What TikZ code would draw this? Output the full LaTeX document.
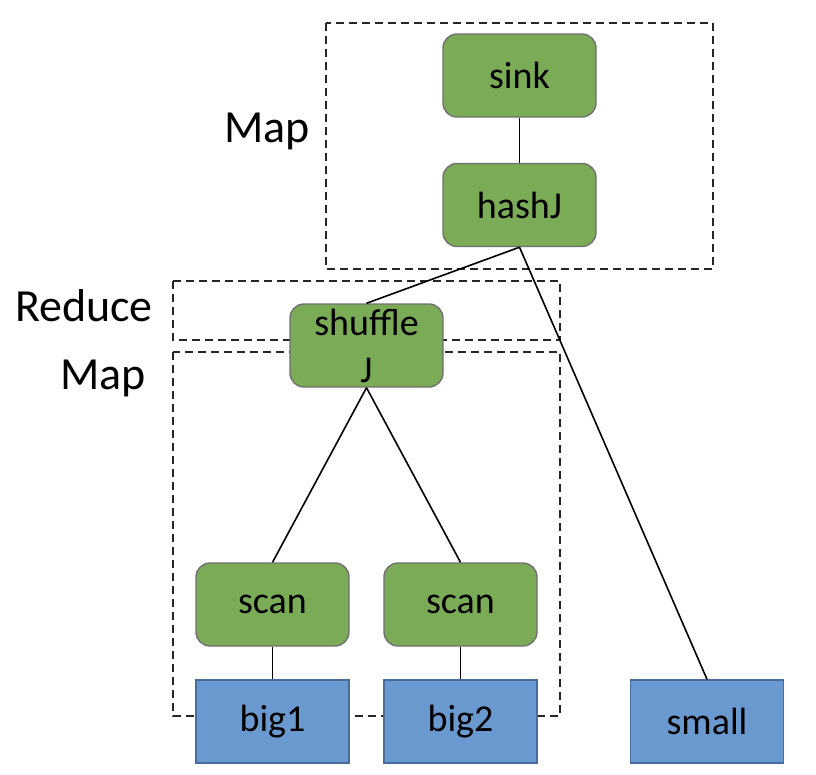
\documentclass[tikz,border=0pt]{standalone}
\usepackage{fontspec}
\setmainfont{Carlito}
\definecolor{gfill}{RGB}{123,171,86}
\definecolor{gdraw}{RGB}{112,112,112}
\definecolor{bfill}{RGB}{106,153,208}
\definecolor{bdraw}{RGB}{72,108,156}
\begin{document}
\begin{tikzpicture}[x=1pt,y=-1pt,
  greenbox/.style={draw=gdraw,fill=gfill,line width=1.4pt,rounded corners=14pt,minimum width=153pt,minimum height=83pt,inner sep=0pt,font=\fontsize{38}{47}\selectfont,align=center},
  bluebox/.style={draw=bdraw,fill=bfill,line width=1.4pt,minimum width=153pt,minimum height=83pt,inner sep=0pt,font=\fontsize{38}{47}\selectfont},
  phase/.style={draw=black!85,line width=1.5pt,dash pattern=on 8pt off 5pt},
  lbl/.style={font=\fontsize{46}{52}\selectfont,inner sep=0pt},
  conn/.style={draw=black,line width=1.6pt}]
\useasboundingbox (0,0) rectangle (816,774);
% phase boxes
\draw[phase] (326,23) rectangle (713,269);
\draw[phase] (173,281) rectangle (560,340);
\draw[phase] (173,352) rectangle (560,716);
% labels
\node[lbl] (map1) at (267,131) {Map};
\node[lbl] (reduce) at (84,306) {Reduce};
\node[lbl] (map2) at (103,378) {Map};
% nodes
\node[greenbox] (sink) at (519.5,75.5) {sink};
\node[greenbox] (hashJ) at (519.5,205) {hashJ};
\node[greenbox] (shuffle) at (366.5,345.5) {shuffle\\J};
\node[greenbox] (scan1) at (272.5,604.5) {scan};
\node[greenbox] (scan2) at (460.5,604.5) {scan};
\node[bluebox] (big1) at (272.5,721.5) {big1};
\node[bluebox] (big2) at (460.5,721.5) {big2};
\node[bluebox] (small) at (707,721.5) {small};
% connectors
\draw[conn] (sink) -- (hashJ);
\draw[conn] (hashJ.south) -- (shuffle.north);
\draw[conn] (hashJ.south) -- (small.north);
\draw[conn] (shuffle.south) -- (scan1.north);
\draw[conn] (shuffle.south) -- (scan2.north);
\draw[conn] (scan1) -- (big1);
\draw[conn] (scan2) -- (big2);
\end{tikzpicture}
\end{document}
